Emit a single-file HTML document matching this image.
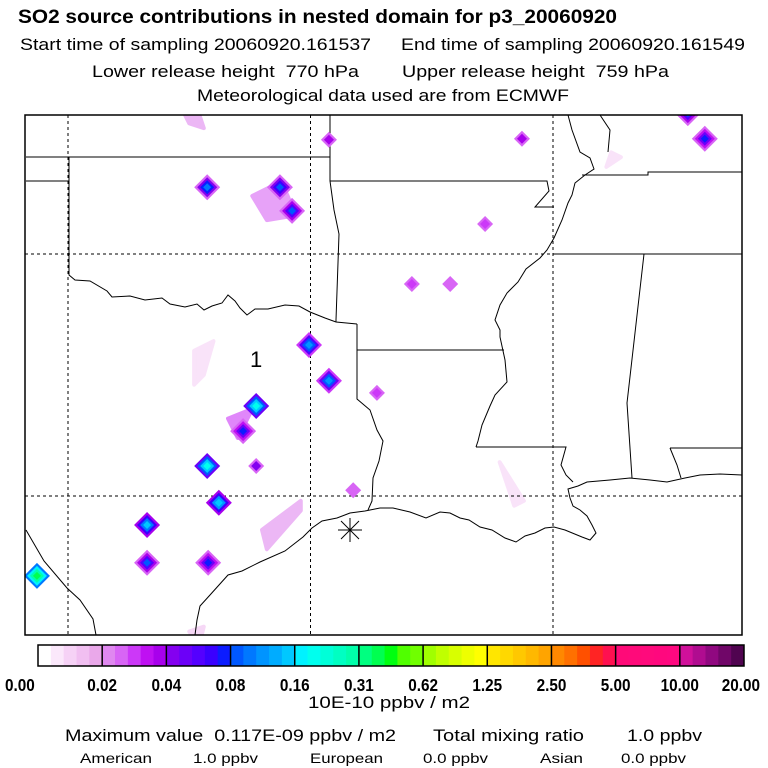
<!DOCTYPE html>
<html><head><meta charset="utf-8"><style>
body{margin:0;background:#fff}
svg{display:block;font-family:"Liberation Sans",sans-serif}
svg text{white-space:pre}
</style></head><body>
<svg id="chart" width="768" height="768" viewBox="0 0 768 768" xmlns="http://www.w3.org/2000/svg">
<rect width="768" height="768" fill="#fff"/>
<g fill="#000">
<text x="18" y="23" font-size="19" font-weight="bold" textLength="599" lengthAdjust="spacingAndGlyphs">SO2 source contributions in nested domain for p3_20060920</text>
<text x="20" y="50" font-size="17" textLength="351" lengthAdjust="spacingAndGlyphs">Start time of sampling 20060920.161537</text>
<text x="401" y="50" font-size="17" textLength="344" lengthAdjust="spacingAndGlyphs">End time of sampling 20060920.161549</text>
<text x="92" y="77" font-size="17" textLength="267" lengthAdjust="spacingAndGlyphs">Lower release height  770 hPa</text>
<text x="402" y="77" font-size="17" textLength="267" lengthAdjust="spacingAndGlyphs">Upper release height  759 hPa</text>
<text x="197" y="101" font-size="17" textLength="372" lengthAdjust="spacingAndGlyphs">Meteorological data used are from ECMWF</text>
</g>
<defs><clipPath id="mapclip"><rect x="25" y="115" width="717" height="520"/></clipPath></defs>
<g id="map" clip-path="url(#mapclip)">
<g id="plumes"></g>
<g id="grid" stroke="#000" stroke-width="1" stroke-dasharray="3,3"></g>
<g fill="none" stroke="#000" stroke-width="1">
<polyline points="26,157 330,157"/>
<polyline points="26,181 69,181 69,157"/>
<polyline points="69,181 69,275 75,280 90,281 107,291 112,297 130,296 145,300 162,298 170,304 185,307 197,304 204,310 212,306 222,303 228,295 235,301 240,308 247,315 255,309 268,309 285,305 299,306 310,312 325,318 336,322 357,324"/>
<polyline points="330,115 330,181 334,210 339,234 336,320 336,322"/>
<polyline points="330,181 547,181 549,191 535,207 554,207"/>
<polyline points="568,115 572,130 580,152 590,158 594,169 585,175 575,183 572,195 568,203 562,220 554,238 547,250 540,258 526,269 518,282 507,293 500,305 495,320 500,330 500,337 505,360 507,382 495,395 490,406 482,425 478,441 476,447"/>
<polyline points="476,447 566,447 561,465 566,475 573,482"/>
<polyline points="357,324 357,350 504,350"/>
<polyline points="357,324 357,399 370,410 377,430 383,441 379,461 373,478 372,501 368,510"/>
<polyline points="195,635 197,620 200,606 210,595 228,575 242,571 260,562 285,551 303,537 312,528 322,521 337,518 350,513 365,511 380,508 393,508 410,512 426,518 440,512 450,513 460,518 469,520 480,527 492,530 505,538 516,542 525,536 535,533 545,528 554,527 565,530 582,537 590,540 596,533 592,525 587,516 580,510 573,506 570,498 568,489 578,486 587,482 610,480 630,478 650,480 667,482 685,478 700,475 720,474 742,475"/>
<polyline points="582,175 648,175 648,172 742,172"/>
<polyline points="554,254 742,254"/>
<polyline points="644,254 627,403 632,478"/>
<polyline points="670,448 742,448"/>
<polyline points="670,448 677,465 681,478"/>
<polyline points="26,530 44,561 67,588 80,600 93,619 96,635"/>
<polyline points="600,115 610,130 608,152"/>
</g>
<g id="sources"></g>
<text x="250" y="367" font-size="22">1</text>
<g stroke="#000" stroke-width="1">
<line x1="338" y1="530" x2="362" y2="530"/><line x1="350" y1="518" x2="350" y2="542"/>
<line x1="341" y1="521" x2="359" y2="539"/><line x1="341" y1="539" x2="359" y2="521"/>
</g>
</g>
<rect x="25" y="115" width="717" height="520" fill="none" stroke="#000" stroke-width="1.5"/>
<g id="colorbar"></g>
<text x="308" y="708" font-size="17" textLength="162" lengthAdjust="spacingAndGlyphs">10E-10 ppbv / m2</text>
<g font-size="17">
<text x="65" y="741" textLength="331" lengthAdjust="spacingAndGlyphs">Maximum value  0.117E-09 ppbv / m2</text>
<text x="433" y="741" textLength="151" lengthAdjust="spacingAndGlyphs">Total mixing ratio</text>
<text x="627" y="741" textLength="75" lengthAdjust="spacingAndGlyphs">1.0 ppbv</text>
</g>
<g font-size="14">
<text x="80" y="763" textLength="72" lengthAdjust="spacingAndGlyphs">American</text>
<text x="193" y="763" textLength="65" lengthAdjust="spacingAndGlyphs">1.0 ppbv</text>
<text x="310" y="763" textLength="73" lengthAdjust="spacingAndGlyphs">European</text>
<text x="423" y="763" textLength="65" lengthAdjust="spacingAndGlyphs">0.0 ppbv</text>
<text x="540" y="763" textLength="43" lengthAdjust="spacingAndGlyphs">Asian</text>
<text x="621" y="763" textLength="65" lengthAdjust="spacingAndGlyphs">0.0 ppbv</text>
</g>
</svg>
<script>
const levelLabels = ["0.00","0.02","0.04","0.08","0.16","0.31","0.62","1.25","2.50","5.00","10.00","20.00"];
const levelValues = [0,0.02,0.04,0.08,0.16,0.31,0.62,1.25,2.5,5,10,20];
const segColors = [
["#ffffff","#fbe8fb","#f6d2f6","#f1bff1","#eaa8ea"],
["#e088f0","#d865f5","#cc38f8","#bf10f2","#a800ec"],
["#8400f0","#6c00f8","#5400ff","#3a00ff","#0c1cff"],
["#0058ff","#0078ff","#0094ff","#00acff","#00c8ff"],
["#00f2ff","#00ffee","#00ffd8","#00ffc2","#00ffaa"],
["#00ff80","#00ff50","#00ff10","#50ff00","#70ff00"],
["#a0ff00","#c0ff00","#d8ff00","#eeff00","#ffff00"],
["#ffe600","#ffd800","#ffc800","#ffb800","#ffa400"],
["#ff8800","#ff7000","#ff5000","#ff2424","#ff1050"],
["#ff0a78","#ff0a7a","#ff0a7c","#ff087e","#ff0880"],
["#d0109a","#b00c90","#900880","#700668","#500450"]];
const gridLons = [-100,-95,-90];
const gridLats = [35,30];
const srcLon = [-97.13,-95.63,-95.38,-95.03,-94.62,-96.12,-96.39,-97.13,-96.12,-96.89,-98.37,-98.37,-97.11,-100.64,-94.62,-90.64,-86.87,-87.22,-91.40,-92.91,-93.63,-92.12,-94.12];
const srcLat = [36.38,36.38,35.89,33.12,32.38,31.86,31.34,30.62,30.62,29.86,29.40,28.62,28.62,28.35,37.36,37.38,37.38,37.91,35.62,34.38,32.13,34.38,30.12];
const srcVal = [0.1,0.09,0.08,0.12,0.11,0.2,0.07,0.2,0.04,0.15,0.14,0.08,0.07,0.4,0.035,0.035,0.07,0.08,0.03,0.03,0.03,0.015,0.015];
const plumeLon = [[-97.6,-97.3,-97.2,-97.5],[-96.2,-95.6,-95.3,-95.9],[-97.4,-97.0,-97.2,-97.4],[-96.0,-95.2,-95.2,-95.9],[-97.5,-97.2,-97.3],[-91.1,-90.6,-90.8],[-88.8,-88.6,-88.9],[-96.7,-96.2,-96.5]];
const plumeLat = [[37.9,37.9,37.6,37.7],[36.2,36.5,35.8,35.7],[33.0,33.2,32.5,32.3],[29.3,29.9,29.7,28.9],[27.2,27.3,26.9],[30.7,29.9,29.8],[37.1,37.0,36.8],[31.6,31.8,31.2]];
const plumeVal = [0.02,0.025,0.01,0.02,0.012,0.008,0.01,0.03];

const NS="http://www.w3.org/2000/svg";
function xOf(lon){return 68+(lon+100)*48.5;}
function yOf(lat){return 254-(lat-35)*48.4;}
function colorFor(v){
  if(v<=0)return segColors[0][0];
  for(let i=0;i<levelValues.length-1;i++){
    if(v<levelValues[i+1]){
      const lo=levelValues[i]||0.01, hi=levelValues[i+1];
      let f=i===0?v/hi:Math.log(v/lo)/Math.log(hi/lo);
      const k=Math.min(4,Math.max(0,Math.floor(f*5)));
      return segColors[i][k];
    }
  }
  return segColors[10][4];
}
function mk(tag,attrs,parent){const e=document.createElementNS(NS,tag);for(const k in attrs)e.setAttribute(k,attrs[k]);parent.appendChild(e);return e;}

const grid=document.getElementById('grid');
gridLons.forEach(l=>{const e=mk('line',{x1:xOf(l),x2:xOf(l),y1:115,y2:635},grid);

});
gridLats.forEach(l=>{const e=mk('line',{x1:25,x2:742,y1:yOf(l),y2:yOf(l)},grid);

});

const pl=document.getElementById('plumes');
plumeLon.forEach((ls,i)=>{
  const pts=ls.map((l,j)=>xOf(l)+','+yOf(plumeLat[i][j])).join(' ');
  const e=mk('polygon',{points:pts,fill:colorFor(plumeVal[i]),'stroke':colorFor(plumeVal[i]),'stroke-width':4,'stroke-linejoin':'round',opacity:0.6},pl);
  
  
});

const src=document.getElementById('sources');
srcLon.forEach((lon,i)=>{
  const cx=xOf(lon), cy=yOf(srcLat[i]), v=srcVal[i];
  const g=mk('g',{},src);
  
  
  const big=v>=0.06;
  const sizes=big?[13,10,7,4]:[8,5];
  const fr=big?[0.25,0.45,0.75,1]:[0.6,1];
  sizes.forEach((s,k)=>{
    const vv=v*fr[k];
    mk('polygon',{points:`${cx},${cy-s} ${cx+s},${cy} ${cx},${cy+s} ${cx-s},${cy}`,fill:colorFor(Math.max(vv,0.025))},g);
  });
});

const cb=document.getElementById('colorbar');
const x0=38,x1=744,y0=645,h=21,sw=(x1-x0)/11;
segColors.forEach((seg,i)=>{
  seg.forEach((c,k)=>{
    const e=mk('rect',{x:x0+i*sw+k*sw/5,y:y0,width:sw/5+0.5,height:h,fill:c},cb);
    
    
  });
});
for(let i=1;i<11;i++){const e=mk('line',{x1:x0+i*sw,x2:x0+i*sw,y1:y0,y2:y0+h,stroke:'#000','stroke-width':1.5},cb);

}
const fr=mk('rect',{x:x0,y:y0,width:x1-x0,height:h,fill:'none',stroke:'#000','stroke-width':1.5},cb);


levelLabels.forEach((t,i)=>{
  let x=x0+i*sw, anchor='middle';
  if(i===0){x=5;anchor='start';}
  if(i===11){x=760;anchor='end';}
  const e=mk('text',{x:x,y:691,'font-size':18,'font-weight':'bold','text-anchor':anchor,transform:`translate(${x},0) scale(0.85,1) translate(${-x},0)`},cb);
  e.textContent=t;
  
  
});
</script>
</body></html>
